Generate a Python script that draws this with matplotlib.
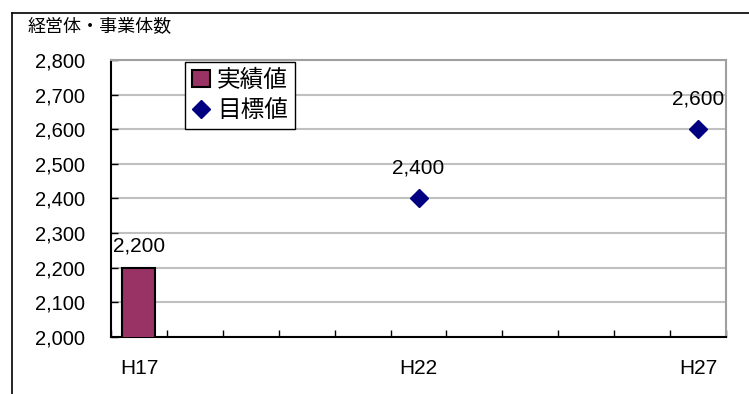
import matplotlib
matplotlib.use("Agg")
import matplotlib.pyplot as plt
from matplotlib.lines import Line2D
from matplotlib.patches import Patch
import numpy as np

# Fiscal years (Heisei) shown on the category axis
years = ["H17", "H18", "H19", "H20", "H21", "H22", "H23", "H24", "H25", "H26", "H27"]
shown_labels = {"H17", "H22", "H27"}

# Actual count (bar) and target counts (diamonds)
actual_years = ["H17"]
actual_values = [2200]
target_years = ["H22", "H27"]
target_values = [2400, 2600]

y_ticks = [2000, 2100, 2200, 2300, 2400, 2500, 2600, 2700, 2800]

JP = ["Noto Sans CJK JP", "DejaVu Sans"]
LAT = ["Liberation Sans", "DejaVu Sans"]

fig = plt.figure(figsize=(7.49, 3.94), dpi=100)
W, H = 749, 394
ax = fig.add_axes([111 / W, 1 - 337 / H, 615 / W, 277 / H])

xpos = {y: i for i, y in enumerate(years)}
ax_x = [xpos[y] for y in actual_years]
tx = [xpos[y] for y in target_years]

bar_color = "#993366"
dia_color = "#000080"

ax.bar(ax_x, actual_values, width=0.59, color=bar_color, edgecolor="black",
       linewidth=1.5, zorder=3)
ax.plot(tx, target_values, linestyle="none", marker="D", markersize=9,
        color=dia_color, zorder=4)

for x, v in zip(ax_x, actual_values):
    ax.annotate(f"{v:,}", (x, v), xytext=(0, 9), textcoords="offset points",
                ha="center", va="bottom", fontsize=15, family=LAT)
for x, v in zip(tx, target_values):
    ax.annotate(f"{v:,}", (x, v), xytext=(0, 15), textcoords="offset points",
                ha="center", va="bottom", fontsize=15, family=LAT)

ax.set_xlim(-0.5, len(years) - 0.5)
ax.set_ylim(y_ticks[0], y_ticks[-1])

ax.set_yticks(y_ticks)
ax.set_yticklabels([f"{t:,}" for t in y_ticks], fontsize=14.5, family=LAT)
ax.tick_params(axis="y", direction="in", length=5, width=1, pad=18.5,
               color="black")

ax.set_xticks(range(len(years)))
ax.set_xticklabels([y if y in shown_labels else "" for y in years],
                   fontsize=15, family=LAT)
ax.tick_params(axis="x", which="major", length=0, pad=16)
ax.set_xticks(np.arange(-0.5, len(years) + 0.5, 1), minor=True)
ax.tick_params(axis="x", which="minor", direction="in", length=5, width=1,
               color="black")

ax.yaxis.grid(True, color="#c0c0c0", linewidth=1.5, zorder=0)
ax.set_axisbelow(True)

ax.spines["left"].set_color("black")
ax.spines["bottom"].set_color("black")
ax.spines["left"].set_linewidth(1.5)
ax.spines["bottom"].set_linewidth(1.5)
ax.spines["top"].set_color("#a0a0a0")
ax.spines["right"].set_color("#a0a0a0")
ax.spines["top"].set_linewidth(1.5)
ax.spines["right"].set_linewidth(1.5)

handles = [
    Patch(facecolor=bar_color, edgecolor="black", linewidth=1.5),
    Line2D([], [], linestyle="none", marker="D", markersize=9, color=dia_color),
]
leg = ax.legend(handles, ["実績値", "目標値"], loc="upper left",
                bbox_to_anchor=((185 - 111) / 615, (337 - 62) / 277),
                prop={"family": JP, "size": 17}, frameon=True, fancybox=False,
                edgecolor="black", framealpha=1, borderpad=0.3,
                handlelength=0.75, handleheight=0.75, handletextpad=0.3,
                labelspacing=0.3, borderaxespad=0)
leg.get_frame().set_linewidth(1.0)

fig.text(28 / W, 1 - 26 / H, "経営体・事業体数", fontsize=13, family=JP,
         ha="left", va="center")

# Outer chart frame (top and left edges)
fig.add_artist(Line2D([12 / W, 1.0], [1 - 13 / H, 1 - 13 / H],
                      color="black", linewidth=1.2, transform=fig.transFigure))
fig.add_artist(Line2D([12 / W, 12 / W], [0.0, 1 - 13 / H],
                      color="black", linewidth=1.2, transform=fig.transFigure))

fig.savefig("out.png", dpi=100)
